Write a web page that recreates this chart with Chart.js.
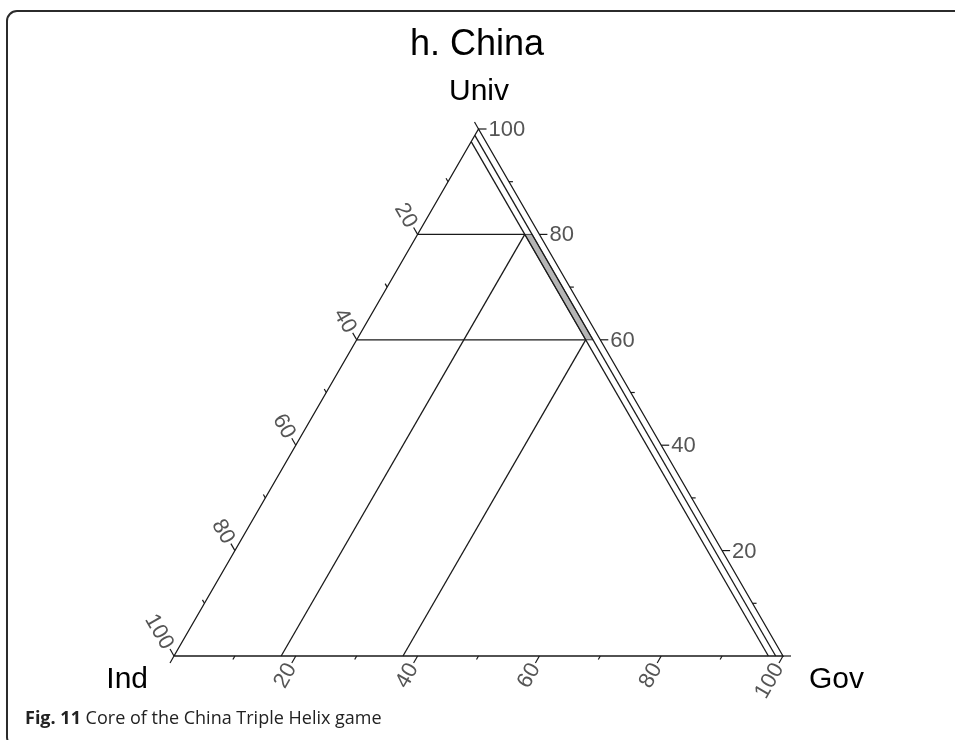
<!DOCTYPE html>
<html>
<head>
<meta charset="utf-8">
<script src="https://cdn.jsdelivr.net/npm/chart.js@4"></script>
<style>
  html, body { margin: 0; padding: 0; background: #fff; }
  canvas { display: block; }
</style>
</head>
<body>
<canvas id="chart" width="955" height="740"></canvas>
<script>
// ternary values (percent)
const majorTicks = [0, 20, 40, 60, 80, 100];
const tickLabels = ['', '20', '40', '60', '80', '100'];
const minorTicks = [10, 30, 50, 70, 90];
const univCuts = [80, 60];      // horizontal lines (Univ constant)
const govCuts = [17.6, 37.6];   // lines parallel to the Ind-Univ side
const indCuts = [2.4, 1.2];     // lines parallel to the Univ-Gov side
const coreUniv = [60, 80];      // grey core band
const coreInd = [1.2, 2.4];

const SQ3 = Math.sqrt(3) / 2;

// Ind at bottom-left, Gov at bottom-right, Univ on top
function tern(ind, univ, gov) {
    return { x: gov + univ / 2, y: univ * SQ3 };
}

const LINE = '#1a1a1a';

function seg(points, extra) {
    return Object.assign({
        data: points,
        showLine: true,
        pointRadius: 0,
        borderColor: LINE,
        borderWidth: 1.3,
        fill: false,
        clip: false,
        order: 0
    }, extra || {});
}

const datasets = [];

// triangle
datasets.push(seg([tern(100, 0, 0), tern(0, 0, 100), tern(0, 100, 0), tern(100, 0, 0)]));

// Univ lines, from the left side to the inner Ind line
univCuts.forEach(u => {
    datasets.push(seg([tern(100 - u, u, 0), tern(indCuts[0], u, 100 - u - indCuts[0])]));
});

// Gov lines, from the bottom up to the inner Ind line
govCuts.forEach(g => {
    datasets.push(seg([tern(100 - g, 0, g), tern(indCuts[0], 100 - g - indCuts[0], g)]));
});

// Ind lines, full length
indCuts.forEach(i => {
    datasets.push(seg([tern(i, 100 - i, 0), tern(i, 0, 100 - i)]));
});

// core (grey band)
datasets.push(seg([
    tern(coreInd[1], coreUniv[1], 100 - coreInd[1] - coreUniv[1]),
    tern(coreInd[0], coreUniv[1], 100 - coreInd[0] - coreUniv[1]),
    tern(coreInd[0], coreUniv[0], 100 - coreInd[0] - coreUniv[0]),
    tern(coreInd[1], coreUniv[0], 100 - coreInd[1] - coreUniv[0]),
    tern(coreInd[1], coreUniv[1], 100 - coreInd[1] - coreUniv[1])
], { borderWidth: 0.8, fill: 'shape', backgroundColor: '#b5b5b5', order: 5 }));

// ticks + labels on the three sides
const ternaryAxes = {
    id: 'ternaryAxes',
    afterDatasetsDraw(chart) {
        const { ctx, scales: { x, y } } = chart;
        const px = p => ({ x: x.getPixelForValue(p.x), y: y.getPixelForValue(p.y) });
        const sides = [
            { at: t => tern(0, t, 100 - t), dir: [1, 0], rot: 0, align: 'left' },            // Univ
            { at: t => tern(t, 100 - t, 0), dir: [-0.5, -SQ3], rot: Math.PI / 3, align: 'right' },  // Ind
            { at: t => tern(100 - t, 0, t), dir: [-0.5, SQ3], rot: -Math.PI / 3, align: 'right' }   // Gov
        ];
        ctx.save();
        ctx.strokeStyle = LINE;
        ctx.lineWidth = 1.2;
        ctx.font = '22px "Liberation Sans", Arial, sans-serif';
        ctx.fillStyle = '#555555';
        ctx.textBaseline = 'middle';
        sides.forEach(s => {
            const tick = (t, len) => {
                const p = px(s.at(t));
                ctx.beginPath();
                ctx.moveTo(p.x, p.y);
                ctx.lineTo(p.x + s.dir[0] * len, p.y + s.dir[1] * len);
                ctx.stroke();
                return p;
            };
            minorTicks.forEach(t => tick(t, 4));
            majorTicks.forEach((t, k) => {
                const p = tick(t, 8);
                if (!tickLabels[k]) return;
                ctx.save();
                ctx.translate(p.x + s.dir[0] * 10, p.y + s.dir[1] * 10);
                ctx.rotate(s.rot);
                ctx.textAlign = s.align;
                ctx.fillText(tickLabels[k], 0, 1);
                ctx.restore();
            });
        });
        ctx.restore();
    }
};

// titles, vertex names, caption and the panel frame
const decor = {
    id: 'decor',
    beforeDraw(chart) {
        const { ctx } = chart;
        ctx.save();
        ctx.fillStyle = '#fff';
        ctx.fillRect(0, 0, chart.width, chart.height);
        ctx.restore();
    },
    afterDraw(chart) {
        const { ctx } = chart;
        ctx.save();
        ctx.strokeStyle = '#2b2b2b';
        ctx.lineWidth = 2;
        ctx.beginPath();
        ctx.roundRect(7, 11, 1000, 736, 10);
        ctx.stroke();

        ctx.fillStyle = '#000';
        ctx.textBaseline = 'alphabetic';
        ctx.textAlign = 'center';
        ctx.font = '36px "Liberation Sans", Arial, sans-serif';
        ctx.fillText('h. China', 477, 55);
        ctx.font = '30px "Liberation Sans", Arial, sans-serif';
        ctx.fillText('Univ', 479, 100);
        ctx.textAlign = 'right';
        ctx.fillText('Ind', 148, 688);
        ctx.textAlign = 'left';
        ctx.fillText('Gov', 809, 688);

        ctx.fillStyle = '#222';
        ctx.font = 'bold 18px "Open Sans", sans-serif';
        ctx.fillText('Fig. 11', 25, 724);
        const w = ctx.measureText('Fig. 11').width;
        ctx.font = '18px "Open Sans", sans-serif';
        ctx.fillText(' Core of the China Triple Helix game', 25 + w, 724);
        ctx.restore();
    }
};

new Chart(document.getElementById('chart'), {
    type: 'scatter',
    data: { datasets },
    options: {
        responsive: false,
        animation: false,
        layout: { padding: { left: 174, right: 172, top: 129, bottom: 84 } },
        plugins: { legend: { display: false }, tooltip: { enabled: false } },
        scales: {
            x: { type: 'linear', min: 0, max: 100, display: false },
            y: { type: 'linear', min: 0, max: 100 * SQ3, display: false }
        }
    },
    plugins: [decor, ternaryAxes]
});
</script>
</body>
</html>
